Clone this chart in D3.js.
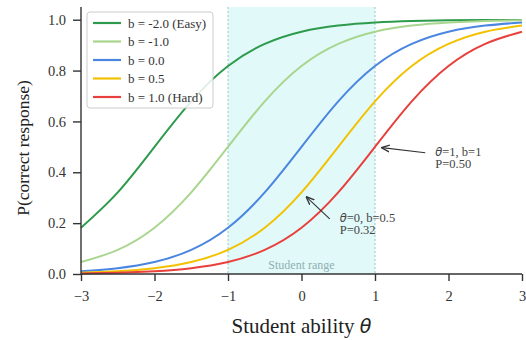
<!DOCTYPE html>
<html>
<head>
<meta charset="utf-8">
<script src="https://cdn.jsdelivr.net/npm/d3@7"></script>
<style>
  html, body { margin: 0; padding: 0; background: #fff; }
  svg { display: block; font-family: "Liberation Serif", "DejaVu Serif", serif; }
</style>
</head>
<body>
<svg id="chart" width="526" height="340"></svg>
<script>
// ability grid (theta) and P(correct)
const theta = [-3, -2.5, -2, -1.5, -1, -0.5, 0, 0.5, 1, 1.5, 2, 2.5, 3]
const pEasy = [0.182, 0.321, 0.5, 0.679, 0.818, 0.905, 0.953, 0.977, 0.989, 0.995, 0.998, 0.999, 0.999]
const pMinus1 = [0.047, 0.095, 0.182, 0.321, 0.5, 0.679, 0.818, 0.905, 0.953, 0.977, 0.989, 0.995, 0.998]
const pZero = [0.011, 0.023, 0.047, 0.095, 0.182, 0.321, 0.5, 0.679, 0.818, 0.905, 0.953, 0.977, 0.989]
const pHalf = [0.005, 0.011, 0.023, 0.047, 0.095, 0.182, 0.321, 0.5, 0.679, 0.818, 0.905, 0.953, 0.977]
const pHard = [0.002, 0.005, 0.011, 0.023, 0.047, 0.095, 0.182, 0.321, 0.5, 0.679, 0.818, 0.905, 0.953]

const seriesLabels = ['b = -2.0 (Easy)', 'b = -1.0', 'b = 0.0', 'b = 0.5', 'b = 1.0 (Hard)']
const seriesColors = ['#2e9a4c', '#a9d68f', '#4a86e0', '#f2c200', '#e8403c']
const seriesValues = [pEasy, pMinus1, pZero, pHalf, pHard]

const xTicks = [-3, -2, -1, 0, 1, 2, 3]
const yTicks = [0, 0.2, 0.4, 0.6, 0.8, 1.0]
const studentRange = [-1, 1]

// annotations: point on curve, text anchor (data units)
const notes = [
    { x: 1, y: 0.5, tx: 1.82, ty: 0.465, lines: ['=1, b=1', 'P=0.50'] },
    { x: 0, y: 0.321, tx: 0.52, ty: 0.205, lines: ['=0, b=0.5', 'P=0.32'] }
]

const svg = d3.select('#chart')
const margin = { left: 81, right: 4, top: 7, bottom: 66 }
const width = 526, height = 340

const x = d3.scaleLinear().domain([-3, 3]).range([margin.left, width - margin.right])
const y = d3.scaleLinear().domain([0, 1.05]).range([height - margin.bottom, margin.top])

// shaded student range
svg.append('rect')
    .attr('x', x(studentRange[0]))
    .attr('y', y(1.05))
    .attr('width', x(studentRange[1]) - x(studentRange[0]))
    .attr('height', y(0) - y(1.05))
    .attr('fill', '#e2f9f9')

svg.selectAll('.range-edge')
    .data(studentRange)
    .join('line')
    .classed('range-edge', true)
    .attr('x1', d => x(d)).attr('x2', d => x(d))
    .attr('y1', y(1.05)).attr('y2', y(0))
    .attr('stroke', '#9cc4c4')
    .attr('stroke-width', 1)
    .attr('stroke-dasharray', '2,2')

svg.append('text')
    .attr('x', x(0))
    .attr('y', y(0) - 5)
    .attr('text-anchor', 'middle')
    .attr('font-size', 12)
    .attr('fill', '#8fb0b0')
    .text('Student range')

// curves
const line = d3.line()
    .x((d, i) => x(theta[i]))
    .y(d => y(d))
    .curve(d3.curveNatural)

svg.append('g')
    .selectAll('path')
    .data(seriesValues)
    .join('path')
    .attr('d', d => line(d))
    .attr('fill', 'none')
    .attr('stroke', (d, i) => seriesColors[i])
    .attr('stroke-width', 2)

// axes
const xAxis = svg.append('g')
    .attr('transform', `translate(0,${y(0)})`)
    .call(d3.axisBottom(x).tickValues(xTicks).tickSize(7).tickPadding(10)
        .tickFormat(d => d < 0 ? '\u2212' + Math.abs(d) : d))
const yAxis = svg.append('g')
    .attr('transform', `translate(${x(-3)},0)`)
    .call(d3.axisLeft(y).tickValues(yTicks).tickSize(8).tickPadding(7).tickFormat(d3.format('.1f')))

for (const ax of [xAxis, yAxis]) {
    ax.select('.domain').attr('stroke', '#333').attr('stroke-width', 1.4)
    ax.selectAll('.tick line').attr('stroke', '#333').attr('stroke-width', 1.4)
    ax.selectAll('.tick text')
        .attr('font-family', '"Liberation Serif", serif')
        .attr('font-size', 14.5)
        .attr('fill', '#333')
}
xAxis.select('.domain').attr('d', `M${x(-3)},0H${x(3)}`)
yAxis.select('.domain').attr('d', `M0,${y(0)}V${y(1.05)}`)

// axis titles
const xTitle = svg.append('text')
    .attr('x', (x(-3) + x(3)) / 2)
    .attr('y', 333)
    .attr('text-anchor', 'middle')
    .attr('font-size', 21)
    .attr('fill', '#222')
xTitle.append('tspan').text('Student ability ')
xTitle.append('tspan').attr('font-style', 'italic').attr('font-family', '"DejaVu Sans", sans-serif').attr('font-size', 19).text('θ')

svg.append('text')
    .attr('transform', `translate(29,148) rotate(-90)`)
    .attr('text-anchor', 'middle')
    .attr('font-size', 17.5)
    .attr('fill', '#222')
    .text('P(correct response)')

// annotations
svg.append('defs').append('marker')
    .attr('id', 'arrow')
    .attr('viewBox', '0 0 10 10')
    .attr('refX', 9).attr('refY', 5)
    .attr('markerWidth', 7).attr('markerHeight', 7)
    .attr('orient', 'auto')
    .append('path')
    .attr('d', 'M0,1L10,5L0,9')
    .attr('fill', 'none')
    .attr('stroke', '#333')
    .attr('stroke-width', 1.6)

notes.forEach(n => {
    const px = x(n.x), py = y(n.y)
    const tx = x(n.tx) - 10, ty = y(n.ty) - 3
    const dx = tx - px, dy = ty - py
    const len = Math.hypot(dx, dy)
    const shrink = 7
    svg.append('line')
        .attr('x1', tx).attr('y1', ty)
        .attr('x2', px + dx / len * shrink).attr('y2', py + dy / len * shrink)
        .attr('stroke', '#333')
        .attr('stroke-width', 1.2)
        .attr('marker-end', 'url(#arrow)')

    const t = svg.append('text')
        .attr('x', x(n.tx))
        .attr('y', y(n.ty))
        .attr('font-size', 12.5)
        .attr('fill', '#444')
    t.append('tspan').attr('font-style', 'italic').attr('font-family', '"DejaVu Sans", sans-serif').attr('font-size', 11.5).text('θ')
    t.append('tspan').text(n.lines[0])
    t.append('tspan').attr('x', x(n.tx)).attr('dy', 12.5).text(n.lines[1])
})

// legend
const legend = svg.append('g').attr('transform', 'translate(87,12)')
legend.append('rect')
    .attr('width', 126).attr('height', 96)
    .attr('rx', 3)
    .attr('fill', 'rgba(255,255,255,0.85)')
    .attr('stroke', '#cccccc')

const item = legend.selectAll('.item')
    .data(seriesLabels)
    .join('g')
    .classed('item', true)
    .attr('transform', (d, i) => `translate(0,${11 + i * 18.5})`)

item.append('line')
    .attr('x1', 6).attr('x2', 34)
    .attr('stroke', (d, i) => seriesColors[i])
    .attr('stroke-width', 2.2)

item.append('text')
    .attr('x', 41)
    .attr('dy', '0.35em')
    .attr('font-size', 13)
    .attr('fill', '#333')
    .text(d => d)
</script>
</body>
</html>
